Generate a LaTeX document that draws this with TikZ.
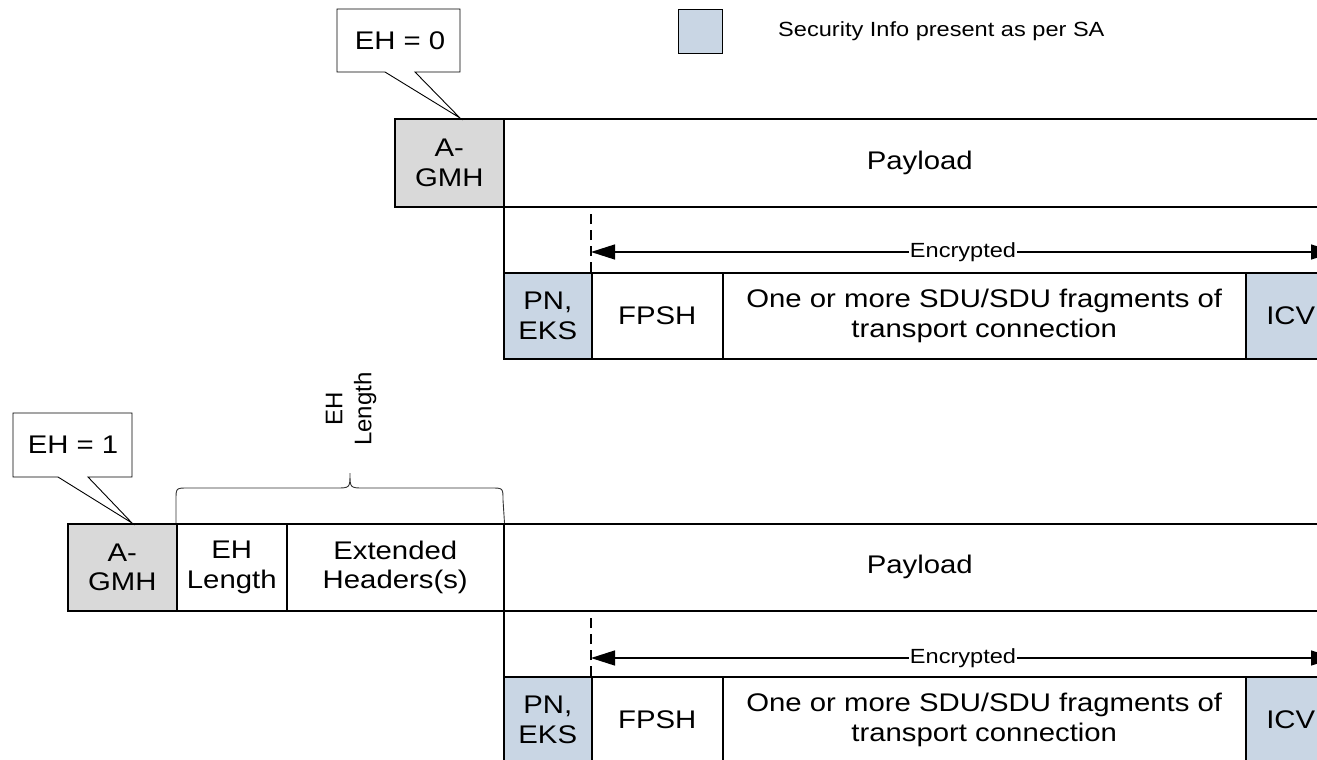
\documentclass[tikz,border=0pt]{standalone}
\usepackage{fontspec}
\setmainfont{Liberation Sans}[FakeStretch=1.15]
\newfontfamily\plainsans{Liberation Sans}
\usetikzlibrary{arrows.meta}

\definecolor{hdrgray}{HTML}{D9D9D9}
\definecolor{secblue}{HTML}{C9D6E4}

\newcommand{\bigtext}{\fontsize{25.5}{29.5}\selectfont}
\newcommand{\smalltext}{\fontsize{20.5}{24}\selectfont}

\tikzset{
  cell/.style={draw, line width=1.5pt, inner sep=0pt, align=center,
               anchor=north west, font=\bigtext},
  hdrcell/.style={cell, fill=hdrgray},
  seccell/.style={cell, fill=secblue},
  gapcell/.style={draw, line width=1.5pt, inner sep=0pt, anchor=north west},
  calloutline/.style={draw, fill=white, line width=0.9pt, line join=miter},
  bracket/.style={draw, line width=0.9pt, black!80},
  guide/.style={line width=1.3pt, dash pattern=on 10pt off 6pt},
  encarrow/.style={line width=1.4pt,
                   {Triangle[length=24pt,width=15pt]}-{Triangle[length=24pt,width=15pt]}},
  enclabel/.style={fill=white, inner sep=1pt, font=\smalltext}
}

\begin{document}
\begin{tikzpicture}[x=1pt, y=-1pt]
\useasboundingbox (0,0) rectangle (1317,760);

% ---------- legend ----------
\node[draw, fill=secblue, line width=1.1pt, minimum width=44pt, minimum height=44pt,
      inner sep=0pt, anchor=north west] (legkey) at (678,9) {};
\node[anchor=west, inner sep=0pt, font=\smalltext] (legtext) at (778,31)
      {Security Info present as per SA};

% ---------- frame without extended header (EH = 0) ----------
\node[hdrcell, minimum width=109pt, minimum height=88pt] (gmhA) at (394,118) {A-\\GMH};
\node[cell, minimum width=832pt, minimum height=88pt] (payA) at (503,118) {Payload};
\node[gapcell, minimum width=832pt, minimum height=66pt] (ciphA) at (503,206) {};
\node[seccell, minimum width=88pt, minimum height=86pt] (pnA) at (503,272) {PN,\\EKS};
\node[cell, minimum width=131pt, minimum height=86pt] (fpshA) at (591,272) {FPSH};
\node[cell, minimum width=523pt, minimum height=86pt] (sduA) at (722,272)
      {One or more SDU/SDU fragments of\\transport connection};
\node[seccell, minimum width=90pt, minimum height=86pt] (icvA) at (1245,272) {ICV};

\draw[guide] (fpshA.north west) -- (fpshA.north west |- ciphA.north);
\coordinate (encLA) at (591,252);
\coordinate (encRA) at (1335,252);
\draw[encarrow] (encLA) -- node[enclabel] (encA) {Encrypted} (encRA);

% callout EH = 0
\coordinate (tipA) at (460,118);
\draw[calloutline] (337,9) -- (460,9) -- (460,72) -- (415,72) -- (tipA)
      -- (385,72) -- (337,72) -- cycle;
\node[font=\bigtext, inner sep=0pt] (ehA) at (400,40.5) {EH = 0};

% ---------- frame with extended header (EH = 1) ----------
\node[hdrcell, minimum width=109pt, minimum height=87pt] (gmhB) at (67,523) {A-\\GMH};
\node[cell, minimum width=110pt, minimum height=87pt] (ehlB) at (176,523) {EH\\Length};
\node[cell, minimum width=217pt, minimum height=87pt] (exhB) at (286,523) {Extended\\Headers(s)};
\node[cell, minimum width=832pt, minimum height=87pt] (payB) at (503,523) {Payload};
\node[gapcell, minimum width=832pt, minimum height=66pt] (ciphB) at (503,610) {};
\node[seccell, minimum width=88pt, minimum height=86pt] (pnB) at (503,676) {PN,\\EKS};
\node[cell, minimum width=131pt, minimum height=86pt] (fpshB) at (591,676) {FPSH};
\node[cell, minimum width=523pt, minimum height=86pt] (sduB) at (722,676)
      {One or more SDU/SDU fragments of\\transport connection};
\node[seccell, minimum width=90pt, minimum height=86pt] (icvB) at (1245,676) {ICV};

\draw[guide] (fpshB.north west) -- (fpshB.north west |- ciphB.north);
\coordinate (encLB) at (591,658);
\coordinate (encRB) at (1335,658);
\draw[encarrow] (encLB) -- node[enclabel] (encB) {Encrypted} (encRB);

% brace over the extended header part
\draw[bracket] (ehlB.north west) -- (176,500)
      .. controls (176,488) .. (188,488) -- (336,488)
      .. controls (350,488) .. (350,473)
      .. controls (350,488) .. (364,488) -- (491,488)
      .. controls (503,488) .. (503,500) -- (exhB.north east);
\node[rotate=90, align=center, inner sep=0pt,
      font=\plainsans\fontsize{24}{29}\selectfont] (ehlen) at (351,409) {EH\\Length};

% callout EH = 1
\coordinate (tipB) at (132,523);
\draw[calloutline] (13,413) -- (132,413) -- (132,477) -- (88,477) -- (tipB)
      -- (58,477) -- (13,477) -- cycle;
\node[font=\bigtext, inner sep=0pt] (ehB) at (73,445) {EH = 1};
\end{tikzpicture}
\end{document}
